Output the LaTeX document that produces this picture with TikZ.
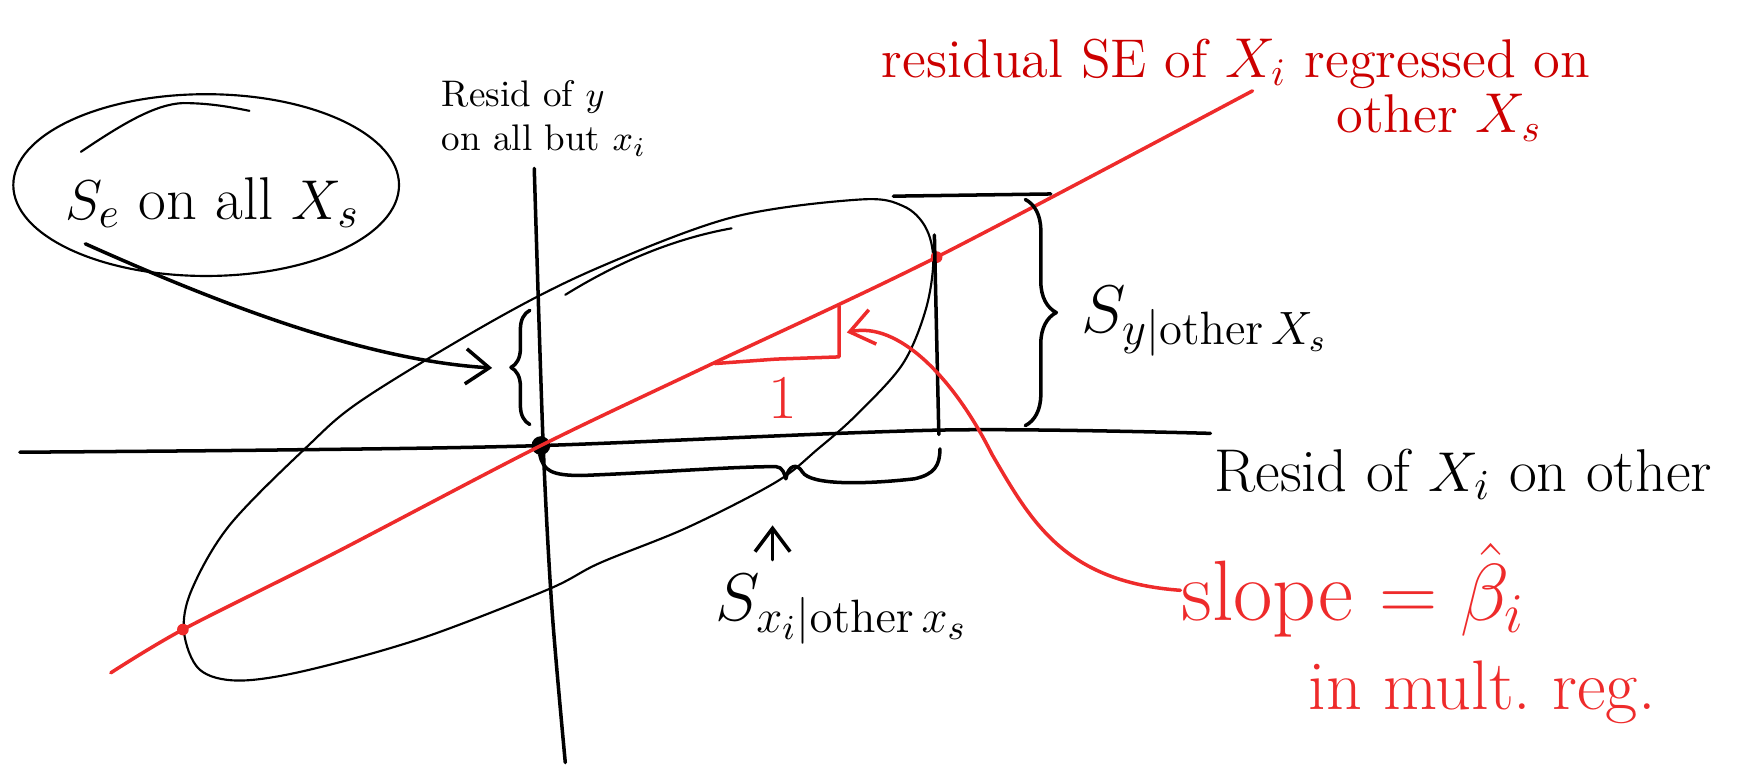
\documentclass[tikz,border=0pt]{standalone}
\usepackage{amsmath}
\usetikzlibrary{arrows.meta, decorations.pathreplacing, positioning}
\definecolor{penred}{HTML}{EE2B2B}
\definecolor{darkred}{HTML}{CC0000}

\begin{document}
\begin{tikzpicture}[
    x=0.01cm, y=-0.01cm,
    ink/.style={line width=0.9pt, line cap=round, line join=round},
    thinink/.style={line width=0.55pt, line cap=round, line join=round},
    redink/.style={line width=0.9pt, draw=penred, line cap=round, line join=round},
    bracket/.style={ink, decorate, decoration={brace, amplitude=#1}},
    hand/.style={inner sep=0pt, anchor=base west},
    arrow/.style={-{Straight Barb[length=6pt, width=9pt]}}
]
\useasboundingbox (0,0) rectangle (1568,692);

% axes
\draw[ink] plot[smooth] coordinates {(18,408) (250,406) (488,402) (850,388) (1092,391)};
\draw[ink] plot[smooth] coordinates {(482,152) (490,400) (498,550) (510,688)};
\fill (488,402) circle[radius=2.4pt];

% scatter blob
\draw[thinink] plot[smooth cycle, tension=0.55] coordinates {(776,180) (815,186) (835,205) (842,235) (835,280) (814,329) (772,375) (738,405) (700,435) (620,476) (541,508) (494,532) (380,576) (276,605) (215,614) (180,604) (166,570) (173,532) (207,474) (276,404) (328,360) (449,287) (541,241) (661,196)};
\draw[thinink] (510,266) .. controls (560,235) and (610,215) .. (660,206);

% regression line
\draw[redink] plot[smooth] coordinates {(100,607) (165,568) (300,500) (488,402) (645,327) (845,232) (1130,82)};
\fill[penred] (845,232) circle[radius=1.5pt];
\fill[penred] (165,568) circle[radius=1.5pt];

% slope triangle
\draw[redink] (645,328) -- (700,324) -- (757,322) -- (757,276);
\node[hand, text=penred, font=\fontsize{16}{18}\selectfont] (one) at (693,378) {1};

% spread in y
\draw[ink] (806,177) -- (948,175);
\draw[ink] (843,212) -- (847,392);
\draw[bracket=0.28cm] (925,180) -- (925,384);
\node[hand, font=\fontsize{17}{20}\selectfont] (sy) at (975,300) {$S_{y|\mathrm{other}\,X_s}$};

% spread in x
\draw[ink] (487,410) .. controls (490,425) and (498,429) .. (525,429)
    .. controls (600,426) and (660,421) .. (700,421)
    .. controls (706,421) and (708,428) .. (709,432)
    .. controls (711,420) and (719,417) .. (724,426)
    .. controls (732,438) and (780,437) .. (825,432)
    .. controls (843,428) and (848,420) .. (848,405);
\coordinate (sxtail) at (697,505);
\coordinate (sxhead) at (697,474);
\draw[ink, arrow] (sxtail) -- (sxhead);
\node[hand, font=\fontsize{18}{21}\selectfont] (sx) at (645,560) {$S_{x_i|\mathrm{other}\,x_s}$};

% residual SE on all X
\draw[thinink] (186,167) ellipse [x radius=174, y radius=82];
\draw[thinink] (73,137) .. controls (110,112) and (140,94) .. (165,93) .. controls (190,93) and (210,97) .. (225,100);
\node[hand, font=\fontsize{15.5}{18}\selectfont] (se) at (58,198) {$S_e$ on all $X_s$};
\coordinate (setail) at (77,220);
\draw[bracket=0.17cm] (478,383) -- (478,280);
\coordinate (sebrace) at (444,332);
\draw[ink, arrow] (setail) .. controls (200,275) and (330,325) .. (sebrace);

% axis labels
\node[hand, font=\fontsize{9.5}{12}\selectfont] (resy) at (398,96) {Resid of $y$};
\node[hand, font=\fontsize{9.5}{12}\selectfont] (resyb) at (398,136) {on all but $x_i$};
\node[hand, font=\fontsize{15.5}{18}\selectfont] (resx) at (1095,443) {Resid of $X_i$ on other};

% slope
\node[hand, text=penred, font=\fontsize{22}{26}\selectfont] (slope) at (1065,560) {slope $=\hat{\beta}_i$};
\node[hand, text=penred, font=\fontsize{18}{22}\selectfont] (mult) at (1180,640) {in mult.\ reg.};
\coordinate (slopehead) at (764,300);
\draw[redink, arrow] (slope.west) .. controls (960,525) and (930,470) .. (895,410)
    .. controls (860,340) and (810,290) .. (slopehead);

% note on top
\node[hand, text=darkred, font=\fontsize{14}{17}\selectfont] (sex) at (795,70) {residual SE of $X_i$ regressed on};
\node[hand, text=darkred, font=\fontsize{14}{17}\selectfont] (sexb) at (1205,120) {other $X_s$};
\end{tikzpicture}
\end{document}
